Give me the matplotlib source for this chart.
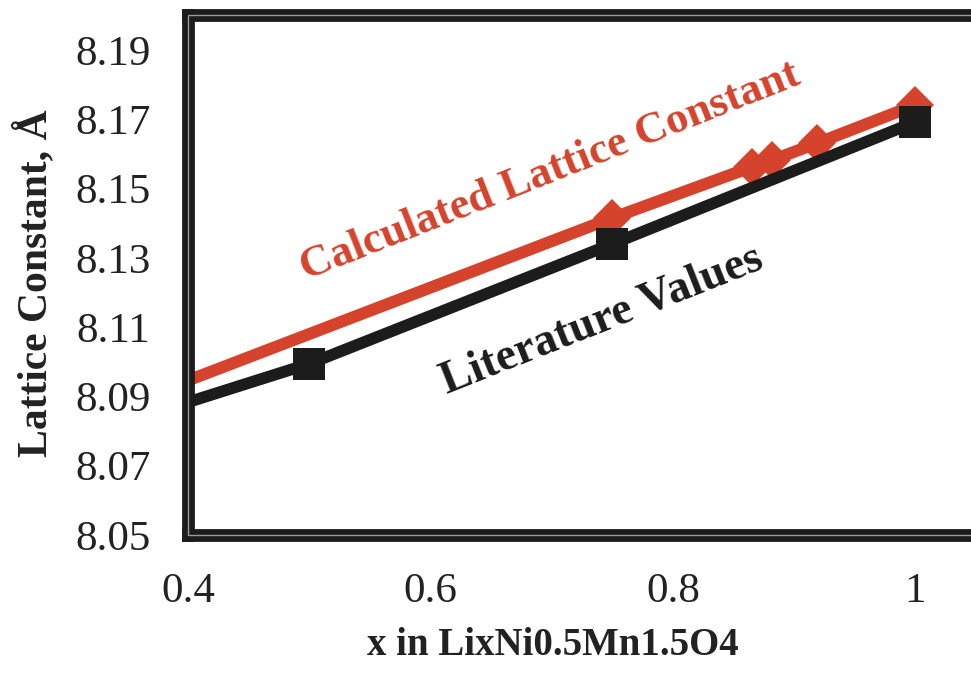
import numpy as np
import matplotlib
matplotlib.use("Agg")
import matplotlib.pyplot as plt
from matplotlib.patches import Rectangle
from matplotlib.ticker import FuncFormatter

# Lattice constant (Angstrom) versus lithium content x in LixNi0.5Mn1.5O4
calc_x = [0.0, 0.75, 0.865, 0.882, 0.919, 1.0]
calc_a = [8.041, 8.1415, 8.1562, 8.1582, 8.1631, 8.1741]

lit_x = [0.0, 0.5, 0.75, 1.0]
lit_a = [8.044, 8.0994, 8.134, 8.1692]

x_ticks = [0.4, 0.6, 0.8, 1.0]
y_ticks = [8.05, 8.07, 8.09, 8.11, 8.13, 8.15, 8.17, 8.19]

RED = "#d5432c"
BLACK = "#1c1c1c"
FONT = "Liberation Serif"

plt.rcParams["font.family"] = [FONT, "DejaVu Serif"]

fig = plt.figure(figsize=(9.71, 6.73), dpi=100)
ax = fig.add_axes([0.1936, 0.2051, 0.8115, 0.7722])

ax.plot(calc_x, calc_a, color=RED, lw=8.6, marker="D", markersize=19,
        markeredgewidth=0, solid_capstyle="butt", zorder=3)
ax.plot(lit_x, lit_a, color=BLACK, lw=8.4, marker="s", markersize=23,
        markeredgewidth=0, solid_capstyle="butt", zorder=4)

ax.set_xlim(0.4, 1.05)
ax.set_ylim(8.05, 8.20)
ax.set_xticks(x_ticks)
ax.set_yticks(y_ticks)
ax.xaxis.set_major_formatter(FuncFormatter(lambda v, p: f"{v:g}"))
ax.yaxis.set_major_formatter(FuncFormatter(lambda v, p: f"{v:.2f}"))
ax.tick_params(axis="both", length=0, labelsize=31, colors="#222222")
ax.tick_params(axis="y", pad=27)
ax.tick_params(axis="x", pad=27)

for side in ax.spines.values():
    side.set_linewidth(9.2)
    side.set_color(BLACK)
    side.set_zorder(6)
ax.add_patch(Rectangle((0, 0), 1, 1, transform=ax.transAxes, fill=False,
                       edgecolor="#9a9a9a", lw=1.0, zorder=7, clip_on=False))

ax.set_xlabel("x in LixNi0.5Mn1.5O4", fontsize=28, fontweight="bold",
              color="#222222")
ax.xaxis.set_label_coords(0.463, -0.178)
ax.set_ylabel("Lattice Constant, Å", fontsize=30, fontweight="bold",
              color="#222222")
ax.yaxis.set_label_coords(-0.168, 0.485)

ax.text(0.6987, 8.1548, "Calculated Lattice Constant", color=RED,
        fontsize=32, fontweight="bold", rotation=21.6,
        rotation_mode="anchor", ha="center", va="center", zorder=5)
ax.text(0.7416, 8.112, "Literature Values", color=BLACK,
        fontsize=33, fontweight="bold", rotation=21.6,
        rotation_mode="anchor", ha="center", va="center", zorder=5)

fig.savefig("out.png", dpi=100, facecolor="white")
